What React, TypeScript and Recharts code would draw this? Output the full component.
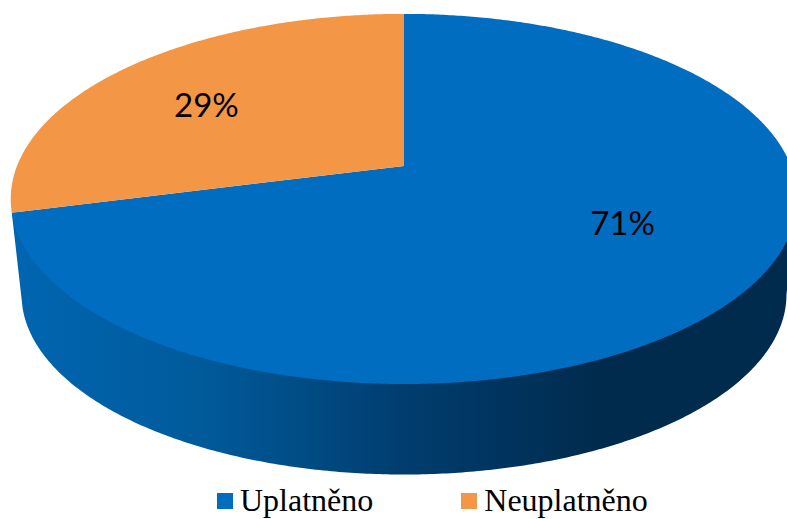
import React from "react";
import { PieChart, Pie, Legend } from "recharts";

const categories = ["Uplatněno", "Neuplatněno"];
const shares = [71, 29];
const colors = ["#006DC0", "#F39645"];
const tableData = categories.map((name, i) => ({ name, value: shares[i], fill: colors[i] }));

const W = 787;
const H = 519;
const CX = 404;
const CY = 166;
const R = 387;
const FLAT = 179.2 / 387;
const PERSP = -0.178;
// wall: lower rim of the disc
const LOW_SCALE = 0.9725;
const LOW_CY = 262.5;
const SIDE_FROM = 100.25;
const SIDE_TO = 259.75;
const labelNudgeX = [-6, -4];
const labelNudgeY = [-25, 8];

type Pt = [number, number];

function project(cwDeg: number, r: number, cx: number, cy: number, radius: number): Pt {
  const t = (cwDeg * Math.PI) / 180;
  const u = Math.sin(t) * r;
  const v = -Math.cos(t) * r;
  const d = 1 + PERSP * v;
  return [cx + (radius * u) / d, cy + (radius * FLAT * v) / d];
}

function arc(from: number, to: number, cx: number, cy: number, radius: number): Pt[] {
  const n = Math.max(2, Math.ceil(Math.abs(to - from) * 2));
  const pts: Pt[] = [];
  for (let i = 0; i <= n; i++) pts.push(project(from + ((to - from) * i) / n, 1, cx, cy, radius));
  return pts;
}

const toPath = (pts: Pt[]) =>
  "M" + pts.map((p) => `${p[0].toFixed(2)},${p[1].toFixed(2)}`).join("L") + "Z";

function Slice3D(props: any) {
  const { cx, cy, outerRadius, startAngle, endAngle, fill, index } = props;
  const from = 90 - startAngle;
  const to = 90 - endAngle;
  const hasWall = from <= 180 && to >= 180;
  const lowerCy = cy + (LOW_CY - CY);
  const gid = `wall-${index}`;
  return (
    <g>
      {hasWall && (
        <>
          <defs>
            <linearGradient id={gid} gradientUnits="userSpaceOnUse" x1={22} x2={600} y1={0} y2={0}>
              <stop offset="0" stopColor="#0065B0" />
              <stop offset="0.32" stopColor="#005A9A" />
              <stop offset="0.65" stopColor="#003E70" />
              <stop offset="1" stopColor="#002B4D" />
            </linearGradient>
          </defs>
          <path
            fill={`url(#${gid})`}
            d={toPath([
              project(Math.max(from, SIDE_FROM), 1, cx, cy, outerRadius),
              ...arc(Math.max(from, SIDE_FROM), Math.min(to, SIDE_TO), cx, lowerCy, outerRadius * LOW_SCALE),
              project(to, 1, cx, cy, outerRadius),
            ])}
          />
        </>
      )}
      <path fill={fill} d={toPath([[cx, cy], ...arc(from, to, cx, cy, outerRadius)])} />
    </g>
  );
}

function SliceLabel(props: any) {
  const { cx, cy, midAngle, outerRadius, value, index } = props;
  const [x, y] = project(90 - midAngle, 0.68, cx, cy, outerRadius);
  return (
    <text
      x={x + labelNudgeX[index]}
      y={y + labelNudgeY[index]}
      textAnchor="middle"
      dominantBaseline="central"
      fill="#000000"
      style={{ fontFamily: "Lato", fontSize: 33 }}
    >
      {`${value}%`}
    </text>
  );
}

export default function App() {
  return (
    <div style={{ position: "absolute", left: 0, top: 0, width: W, height: H, overflow: "hidden", background: "#fff" }}>
      <PieChart width={W} height={H} margin={{ top: 0, right: 0, bottom: 0, left: 0 }}>
        <Pie
          data={tableData}
          dataKey="value"
          nameKey="name"
          cx={CX}
          cy={CY}
          innerRadius={0}
          outerRadius={R}
          startAngle={90}
          endAngle={-270}
          stroke="none"
          shape={Slice3D}
          label={SliceLabel}
          labelLine={false}
          isAnimationActive={false}
        />
        <Legend
          layout="horizontal"
          align="left"
          iconType="square"
          iconSize={16}
          itemSorter={null}
          wrapperStyle={{ position: "absolute", left: 217, top: 479, width: 560, bottom: "auto", lineHeight: "normal" }}
          formatter={(value: string) => (
            <span style={{ display: "inline-block", lineHeight: "30px", position: "relative", top: 6, color: "#000", fontFamily: "'Liberation Serif'", fontSize: 32, marginLeft: 3, marginRight: 78 }}>
              {value}
            </span>
          )}
        />
      </PieChart>
    </div>
  );
}
